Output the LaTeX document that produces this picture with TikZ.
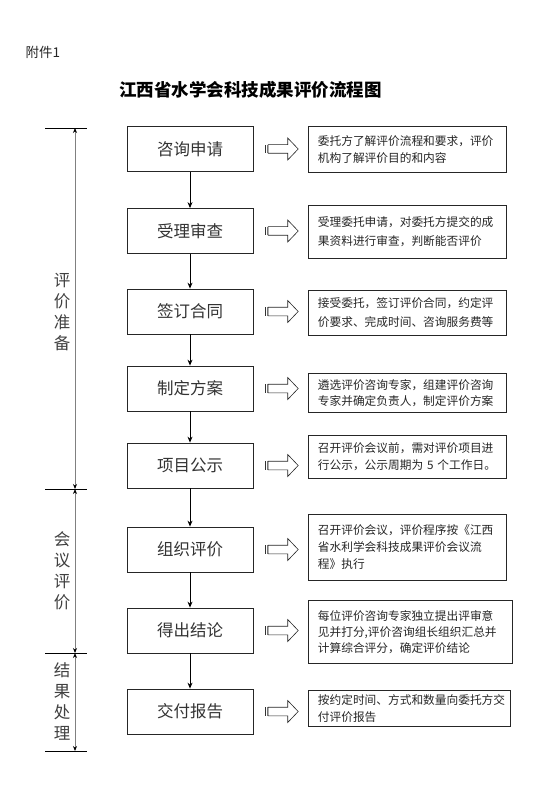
\documentclass[tikz,border=0pt]{standalone}
\usepackage{fontspec}
\setmainfont{Noto Sans CJK SC}
\usetikzlibrary{arrows.meta,calc}
\begin{document}
\begin{tikzpicture}[x=1pt,y=-1pt,
  stepbox/.style={draw=black!85, line width=0.8pt, minimum width=126pt, minimum height=45pt,
    inner sep=0pt, font=\fontsize{16.5}{18}\selectfont, text=black!80},
  notebox/.style={draw=black!85, line width=0.8pt, inner xsep=9.5pt, inner ysep=0pt, align=left,
    anchor=north west, font=\fontsize{11.7}{16.5}\selectfont, text=black!85},
  flow/.style={-{Stealth[length=6pt,width=5pt]}, line width=0.9pt},
  span/.style={{Stealth[length=5pt,width=4pt,black]}-{Stealth[length=5pt,width=4pt,black]}, draw=black!50, line width=0.9pt},
  tick/.style={line width=0.8pt, black},
  vlabel/.style={align=center, font=\fontsize{16.5}{21}\selectfont, text=black!75},
  hollow/.pic={
    \fill[black!80] (-15.5,-4.3) rectangle (-14.4,4.3);
    \fill[black!50] (-13.8,-4.3) rectangle (-13.0,4.3);
    \draw[line width=0.6pt, black!85] (-12.6,-4.3) -- (7,-4.3) -- (7,-11) -- (17.5,0) -- (7,11) -- (7,4.3) -- (-12.6,4.3) -- cycle;
  }
]
\useasboundingbox[fill=white] (0,0) rectangle (540,799);

\node[anchor=west, font=\fontsize{13.5}{15}\selectfont, text=black!85] (att) at (22,52) {附件1};
\node[font=\bfseries\fontsize{17.5}{20}\selectfont] (title) at (250.5,90) {江西省水学会科技成果评价流程图};

% left step boxes
\node[stepbox] (s1) at (190,149) {咨询申请};
\node[stepbox] (s2) at (190,231) {受理审查};
\node[stepbox] (s3) at (190,311.5) {签订合同};
\node[stepbox] (s4) at (190,388.5) {制定方案};
\node[stepbox] (s5) at (190,465.5) {项目公示};
\node[stepbox] (s6) at (190,549.5) {组织评价};
\node[stepbox] (s7) at (190,630.5) {得出结论};
\node[stepbox] (s8) at (190,711.5) {交付报告};

\foreach \a/\b in {s1/s2,s2/s3,s3/s4,s4/s5,s5/s6,s6/s7,s7/s8}
  \draw[flow] (\a.south) -- (\b.north);

% right note boxes
\node[notebox, text width=179pt, minimum height=46pt] (n1) at (308,126)
  {委托方了解评价流程和要求，评价\\机构了解评价目的和内容};
\node[notebox, text width=179pt, minimum height=53pt, font=\fontsize{11.7}{19}\selectfont] (n2) at (308,205)
  {受理委托申请，对委托方提交的成\\果资料进行审查，判断能否评价};
\node[notebox, text width=179pt, minimum height=45pt, font=\fontsize{11.7}{19}\selectfont] (n3) at (308,290)
  {接受委托，签订评价合同，约定评\\价要求、完成时间、咨询服务费等};
\node[notebox, text width=179pt, minimum height=39pt, font=\fontsize{11.7}{16}\selectfont] (n4) at (308,373)
  {遴选评价咨询专家，组建评价咨询\\专家并确定负责人，制定评价方案};
\node[notebox, text width=179pt, minimum height=43pt, font=\fontsize{11.7}{16.5}\selectfont] (n5) at (308,435)
  {召开评价会议前，需对评价项目进\\行公示，公示周期为 5 个工作日。};
\node[notebox, text width=179pt, minimum height=66pt, font=\fontsize{11.7}{17}\selectfont] (n6) at (308,514)
  {召开评价会议，评价程序按《江西\\省水利学会科技成果评价会议流\\程》执行};
\node[notebox, text width=185pt, minimum height=63pt, font=\fontsize{11.7}{16}\selectfont] (n7) at (308,600)
  {每位评价咨询专家独立提出评审意\\见并打分,评价咨询组长组织汇总并\\计算综合评分，确定评价结论};
\node[notebox, text width=183pt, minimum height=36pt, font=\fontsize{11.7}{17}\selectfont] (n8) at (308,690)
  {按约定时间、方式和数量向委托方交\\付评价报告};

% hollow arrows
\foreach \k in {1,...,8}
  \pic at ($(s\k.east)!0.5!(n\k.west |- s\k.east)$) {hollow};

% left bracket
\coordinate (t0) at (75,128);
\coordinate (t1) at (75,489);
\coordinate (t2) at (75,653);
\coordinate (t3) at (75,751);
\foreach \t in {t0,t1,t2,t3}
  \draw[tick] ($(\t)+(-30,0)$) -- ($(\t)+(12,0)$);
\draw[span] (t0) -- (t1);
\draw[span] (t1) -- (t2);
\draw[span] (t2) -- (t3);

\node[vlabel] (g1) at (62,312) {评\\价\\准\\备};
\node[vlabel] (g2) at (62,570.5) {会\\议\\评\\价};
\node[vlabel] (g3) at (62,701.5) {结\\果\\处\\理};
\end{tikzpicture}
\end{document}
